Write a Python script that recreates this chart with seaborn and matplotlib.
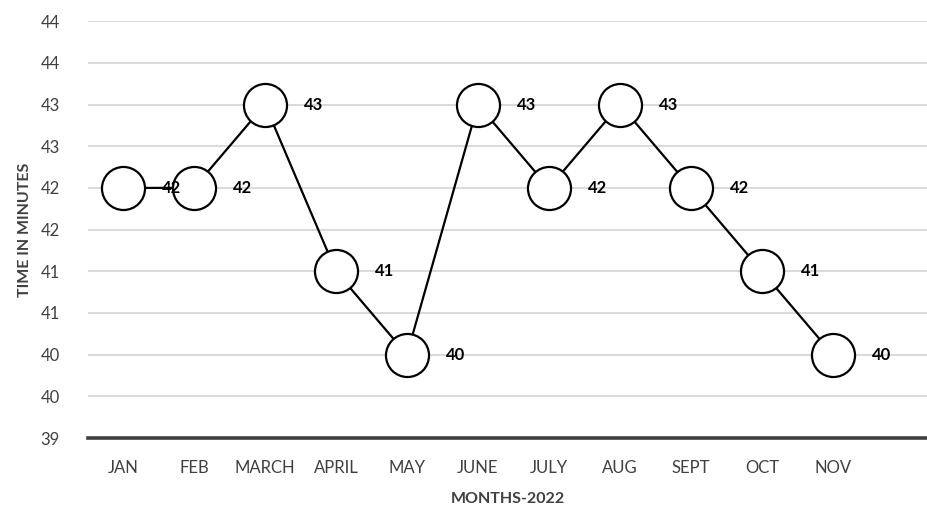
import numpy as np
import pandas as pd
import seaborn as sns
import matplotlib.pyplot as plt
from matplotlib.ticker import FixedLocator

months = ["JAN", "FEB", "MARCH", "APRIL", "MAY", "JUNE", "JULY", "AUG", "SEPT", "OCT", "NOV"]
minutes = [42, 42, 43, 41, 40, 43, 42, 43, 42, 41, 40]
x_tick_labels = months + [""]
y_ticks = [39, 39.5, 40, 40.5, 41, 41.5, 42, 42.5, 43, 43.5, 44]
y_tick_labels = ["39", "40", "40", "41", "41", "42", "42", "43", "43", "44", "44"]

sns.set_style("white")
plt.rcParams["font.family"] = ["Lato", "DejaVu Sans"]

df = pd.DataFrame({"pos": np.arange(len(months)), "minutes": minutes})

fig = plt.figure(figsize=(9.28, 5.29), dpi=100)
ax = fig.add_axes([0.0943, 0.172, 0.9057, 0.788])

sns.lineplot(data=df, x="pos", y="minutes", ax=ax, color="black", linewidth=1.6,
             marker="o", markersize=31, markerfacecolor="white",
             markeredgecolor="black", markeredgewidth=1.6, zorder=3)

for xi, v in zip(df["pos"], df["minutes"]):
    ax.annotate(f"{v}", (xi, v), xytext=(28, 0), textcoords="offset points",
                ha="left", va="center", fontsize=12, fontweight="bold",
                color="black", zorder=4)

ax.set_xlim(-0.5, 11.34)
ax.set_ylim(39, 44)
ax.set_xticks(np.arange(len(x_tick_labels)))
ax.set_xticklabels(x_tick_labels)
ax.yaxis.set_major_locator(FixedLocator(y_ticks))
ax.set_yticklabels(y_tick_labels)

ax.grid(axis="y", color="#d9d9d9", linewidth=1.4)
ax.grid(axis="x", visible=False)
ax.set_axisbelow(True)
for side in ["top", "right", "left"]:
    ax.spines[side].set_visible(False)
ax.spines["bottom"].set_color("#404040")
ax.spines["bottom"].set_linewidth(2.6)
ax.spines["bottom"].set_zorder(1)

ax.tick_params(axis="both", length=0, labelsize=12, labelcolor="#404040")
ax.tick_params(axis="y", pad=20)
ax.tick_params(axis="x", pad=16)

ax.set_xlabel("MONTHS-2022", fontsize=11.5, fontweight="bold", color="#404040", labelpad=11)
ax.set_ylabel("TIME IN MINUTES", fontsize=11.5, fontweight="bold", color="#404040", labelpad=6)

fig.savefig("out.png", dpi=100)
